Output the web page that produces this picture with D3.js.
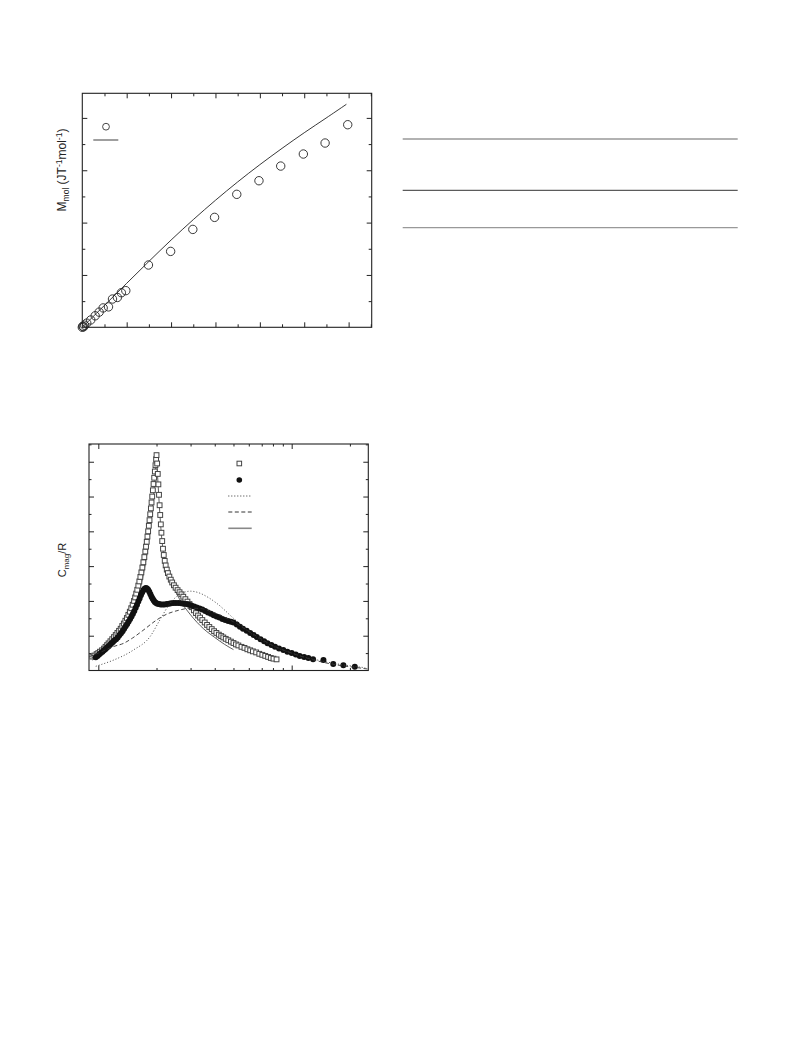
<!DOCTYPE html>
<html><head><meta charset="utf-8">
<script src="https://cdn.jsdelivr.net/npm/d3@7"></script>
<style>body{margin:0;background:#fff} svg{display:block} text{font-family:"Liberation Sans",Arial,sans-serif;fill:#222}</style>
</head><body><svg id="c" width="793" height="1057"></svg>
<script>
// ---------- Top panel: magnetization ----------
const magField = [0.0,0.01,0.03,0.05,0.10,0.19,0.29,0.38,0.47,0.59,0.68,0.79,0.88,0.98,1.49,1.99,2.49,2.98,3.48,3.98,4.47,4.98,5.47,5.98];
const magValue = [0.0,0.02,0.01,0.04,0.08,0.14,0.22,0.29,0.37,0.39,0.54,0.57,0.66,0.70,1.19,1.45,1.87,2.10,2.54,2.80,3.08,3.31,3.52,3.87];
const fitField = [0.0,0.5,1.0,1.5,2.0,2.5,3.0,3.5,4.0,4.5,5.0,5.5,5.95];
const fitValue = [0.0,0.42,0.84,1.26,1.67,2.06,2.43,2.78,3.11,3.42,3.72,4.00,4.26];
const magMajorX = [1,2,3,4,5,6];
const magMinorX = [0.5,1.5,2.5,3.5,4.5,5.5,6.5];
const magMajorY = [1,2,3,4];
const magMinorY = [0.5,1.5,2.5,3.5];

// ---------- Bottom panel: magnetic heat capacity ----------
const sqT = [0.93,0.955,0.98,1.00,1.02,1.045,1.07,1.09,1.11,1.13,1.155,1.18,1.205,1.23,1.255,1.28,1.305,1.33,1.355,1.38,1.405,1.43,1.455,1.48,1.505,1.53,1.55,1.57,1.59,1.61,1.63,1.65,1.67,1.69,1.71,1.73,1.75,1.765,1.78,1.795,1.81,1.825,1.84,1.855,1.87,1.885,1.90,1.915,1.93,1.945,1.96,1.975,1.99,2.00,
  2.015,2.03,2.045,2.06,2.075,2.09,2.105,2.12,2.14,2.16,2.18,2.205,2.23,2.26,2.29,2.33,2.37,2.41,2.46,2.51,2.57,2.63,2.69,2.75,2.82,2.89,2.96,3.04,3.12,3.20,3.28,3.36,3.45,3.55,3.65,3.75,3.86,3.97,4.08,4.20,4.32,4.43,4.56,4.70,4.85,5.00,5.15,5.30,5.50,5.70,5.90,6.10,6.30,6.55,6.80,7.05,7.30,7.55,7.80,8.05,8.35];
const sqC = [0.040,0.043,0.047,0.050,0.054,0.058,0.063,0.068,0.073,0.078,0.084,0.090,0.096,0.102,0.108,0.114,0.120,0.128,0.135,0.143,0.151,0.160,0.169,0.179,0.189,0.200,0.210,0.221,0.232,0.244,0.256,0.269,0.282,0.296,0.311,0.326,0.342,0.356,0.370,0.385,0.400,0.416,0.432,0.449,0.466,0.483,0.500,0.518,0.536,0.554,0.572,0.590,0.607,0.619,
  0.595,0.565,0.535,0.505,0.475,0.447,0.420,0.396,0.372,0.350,0.332,0.315,0.302,0.290,0.280,0.270,0.261,0.253,0.245,0.238,0.231,0.225,0.219,0.212,0.205,0.198,0.191,0.182,0.173,0.165,0.158,0.152,0.145,0.138,0.131,0.125,0.119,0.113,0.108,0.103,0.099,0.095,0.091,0.087,0.083,0.079,0.075,0.072,0.068,0.065,0.061,0.058,0.055,0.052,0.048,0.045,0.042,0.039,0.036,0.034,0.032];
const ciT = [0.97,0.99,1.01,1.03,1.05,1.07,1.09,1.11,1.13,1.15,1.17,1.19,1.21,1.235,1.26,1.285,1.31,1.335,1.36,1.385,1.41,1.435,1.46,1.485,1.51,1.535,1.56,1.585,1.61,1.635,1.66,1.685,1.71,1.735,1.76,1.785,1.81,1.835,1.86,1.885,1.91,1.935,1.96,1.99,2.02,2.06,2.10,2.15,2.20,2.26,2.32,2.38,2.45,2.52,2.60,2.68,2.76,2.85,2.94,3.03,3.13,3.23,3.34,3.45,3.57,3.69,3.82,3.95,4.09,4.23,4.38,4.53,4.69,4.85,5.00,5.20,5.40,5.60,5.85,6.10,6.35,6.60,6.90,7.20,7.50,7.85,8.20,8.60,9.05,9.50,10.0,10.5,11.0,11.6,12.2,12.9,14.6,16.4,18.5,21.2];
const ciC = [0.038,0.042,0.046,0.050,0.054,0.058,0.062,0.066,0.070,0.074,0.078,0.082,0.086,0.090,0.095,0.101,0.107,0.113,0.120,0.127,0.134,0.141,0.148,0.155,0.163,0.171,0.180,0.189,0.198,0.207,0.216,0.224,0.231,0.235,0.237,0.236,0.232,0.226,0.219,0.212,0.206,0.201,0.197,0.194,0.192,0.191,0.190,0.190,0.190,0.191,0.192,0.193,0.194,0.194,0.194,0.193,0.192,0.191,0.189,0.187,0.184,0.181,0.178,0.175,0.171,0.167,0.163,0.159,0.155,0.152,0.148,0.145,0.142,0.140,0.138,0.132,0.126,0.120,0.114,0.108,0.102,0.096,0.090,0.084,0.078,0.073,0.068,0.063,0.059,0.054,0.050,0.046,0.042,0.039,0.036,0.032,0.030,0.019,0.015,0.011];
const dotT = [0.97,1.02,1.2,1.52,1.85,2.08,2.35,2.75,3.0,3.36,3.7,4.1,5.0,6.1,8.0,10.0,15.0,24.0];
const dotC = [0.012,0.016,0.030,0.059,0.097,0.145,0.193,0.224,0.228,0.222,0.210,0.193,0.150,0.108,0.070,0.050,0.025,0.008];
const dashT = [0.9,1.0,1.1,1.2,1.35,1.5,1.7,2.0,2.26,2.6,2.98,3.4,3.8,4.5,5.0,6.1,8.0,10.0,15.0,23.4,24.9];
const dashC = [0.040,0.050,0.060,0.069,0.078,0.093,0.115,0.145,0.162,0.173,0.179,0.178,0.170,0.153,0.140,0.110,0.072,0.050,0.022,0.006,0.004];
const solT = [0.93,1.0,1.2,1.4,1.55,1.7,1.8,1.9,1.95,2.0,2.03,2.07,2.12,2.2,2.35,2.6,3.0,3.5,4.0,4.5,5.0];
const solC = [0.030,0.040,0.075,0.125,0.185,0.270,0.350,0.460,0.530,0.600,0.550,0.470,0.390,0.320,0.265,0.210,0.160,0.120,0.095,0.075,0.060];
const cMajorX = [1,10];
const cMinorX = [2,3,4,5,6,7,8,9,20];
const cMajorY = [0.1,0.2,0.3,0.4,0.5,0.6];
const cMinorY = [0.05,0.15,0.25,0.35,0.45,0.55,0.65];

const svg = d3.select("#c");

function frameAxes(g, x, y, majX, minX, majY, minY, L, S) {
  const [x0,x1] = x.range(), [y0,y1] = y.range();
  const mk = (axis, ticks, len) => axis.tickValues(ticks).tickSizeInner(-len).tickSizeOuter(0).tickFormat("");
  const defs = [
    [d3.axisBottom, x, `translate(0,${y0})`],
    [d3.axisTop, x, `translate(0,${y1})`],
    [d3.axisLeft, y, `translate(${x0},0)`],
    [d3.axisRight, y, `translate(${x1},0)`]
  ];
  defs.forEach(([fn, sc, tr], i) => {
    const maj = i < 2 ? majX : majY, min = i < 2 ? minX : minY;
    [[maj, L],[min, S]].forEach(([t, len]) => {
      const a = g.append("g").attr("transform", tr).call(mk(fn(sc), t, len));
      a.select(".domain").remove();
      a.selectAll("line").attr("stroke", "#222").attr("stroke-width", 1);
    });
  });
  g.append("rect").attr("x", x0).attr("y", y1).attr("width", x1 - x0).attr("height", y0 - y1)
    .attr("fill", "none").attr("stroke", "#222").attr("stroke-width", 1.1);
}

// ---- Top panel
const xM = d3.scaleLinear([0, 6.52], [82.3, 371.7]);
const yM = d3.scaleLinear([0, 4.47], [327.3, 93.3]);
const gM = svg.append("g");
frameAxes(gM, xM, yM, magMajorX, magMinorX, magMajorY, magMinorY, 5, 3);
gM.append("path").datum(d3.zip(fitField, fitValue))
  .attr("d", d3.line().x(d => xM(d[0])).y(d => yM(d[1])).curve(d3.curveBasis))
  .attr("fill", "none").attr("stroke", "#222").attr("stroke-width", 0.9);
gM.selectAll("circle.m").data(d3.zip(magField, magValue)).join("circle")
  .attr("cx", d => xM(d[0])).attr("cy", d => yM(d[1])).attr("r", 4.2)
  .attr("fill", "none").attr("stroke", "#222").attr("stroke-width", 0.9);
// legend
gM.append("circle").attr("cx", 106).attr("cy", 126.7).attr("r", 3.4).attr("fill", "none").attr("stroke", "#333").attr("stroke-width", 0.9);
gM.append("line").attr("x1", 93.3).attr("x2", 118.3).attr("y1", 140).attr("y2", 140).attr("stroke", "#888").attr("stroke-width", 1.6);
// y label
const tM = gM.append("text").attr("transform", "translate(66,170) rotate(-90)").attr("text-anchor", "middle").attr("font-size", 12);
tM.append("tspan").text("M");
tM.append("tspan").attr("font-size", 8.5).attr("dy", 3).text("mol");
tM.append("tspan").attr("dy", -3).text(" (JT");
tM.append("tspan").attr("font-size", 8.5).attr("dy", -4.5).text("-1");
tM.append("tspan").attr("dy", 4.5).text("mol");
tM.append("tspan").attr("font-size", 8.5).attr("dy", -4.5).text("-1");
tM.append("tspan").attr("dy", 4.5).text(")");

// ---- Table rules (right of top panel)
[[139, "#999", 1.3], [190.3, "#333", 1], [227.7, "#999", 1.3]].forEach(([yy, c, w]) =>
  svg.append("line").attr("x1", 402.7).attr("x2", 737.7).attr("y1", yy).attr("y2", yy).attr("stroke", c).attr("stroke-width", w));

// ---- Bottom panel
const xC = d3.scaleLog([0.895, 24.9], [89, 368.3]);
const yC = d3.scaleLinear([0, 0.651], [670.5, 444]);
const gC = svg.append("g");
frameAxes(gC, xC, yC, cMajorX, cMinorX, cMajorY, cMinorY, 5, 2.5);
const lineC = d3.line().x(d => xC(d[0])).y(d => yC(d[1])).curve(d3.curveMonotoneX);
gC.append("path").datum(d3.zip(solT, solC)).attr("d", lineC).attr("fill", "none").attr("stroke", "#333").attr("stroke-width", 0.8);
gC.selectAll("rect.sq").data(d3.zip(sqT, sqC)).join("rect")
  .attr("x", d => xC(d[0]) - 2.4).attr("y", d => yC(d[1]) - 2.4).attr("width", 4.8).attr("height", 4.8)
  .attr("fill", "#fff").attr("stroke", "#444").attr("stroke-width", 1);
gC.selectAll("circle.ci").data(d3.zip(ciT, ciC)).join("circle")
  .attr("cx", d => xC(d[0])).attr("cy", d => yC(d[1])).attr("r", 3)
  .attr("fill", "#111");
gC.append("path").datum(d3.zip(dotT, dotC)).attr("d", lineC).attr("fill", "none").attr("stroke", "#333").attr("stroke-width", 0.9).attr("stroke-dasharray", "1,2");
gC.append("path").datum(d3.zip(dashT, dashC)).attr("d", lineC).attr("fill", "none").attr("stroke", "#333").attr("stroke-width", 0.9).attr("stroke-dasharray", "4,2.5");
// legend
gC.append("rect").attr("x", 237).attr("y", 461.2).attr("width", 4.6).attr("height", 4.6).attr("fill", "#fff").attr("stroke", "#444");
gC.append("circle").attr("cx", 239.3).attr("cy", 480).attr("r", 2.8).attr("fill", "#111");
gC.append("line").attr("x1", 228.3).attr("x2", 251.7).attr("y1", 496).attr("y2", 496).attr("stroke", "#333").attr("stroke-dasharray", "1,2");
gC.append("line").attr("x1", 228.3).attr("x2", 251.7).attr("y1", 512).attr("y2", 512).attr("stroke", "#333").attr("stroke-dasharray", "4,2.5");
gC.append("line").attr("x1", 228.3).attr("x2", 251.7).attr("y1", 528.3).attr("y2", 528.3).attr("stroke", "#888").attr("stroke-width", 1.6);
const tC = gC.append("text").attr("transform", "translate(66,560) rotate(-90)").attr("text-anchor", "middle").attr("font-size", 11);
tC.append("tspan").text("C");
tC.append("tspan").attr("font-size", 8).attr("dy", 2.5).text("mag");
tC.append("tspan").attr("dy", -2.5).text("/R");
</script></body></html>
